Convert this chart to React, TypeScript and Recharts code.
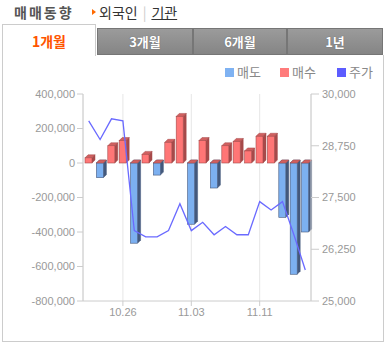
import React from 'react';
import { ComposedChart, Bar, Line, XAxis, YAxis, CartesianGrid } from 'recharts';

const dates = ['10.21', '10.22', '10.23', '10.26', '10.27', '10.28', '10.29', '10.30', '11.02', '11.03', '11.04', '11.05', '11.06', '11.09', '11.10', '11.11', '11.12', '11.13', '11.16', '11.17'];
const sellVolume = [0, -85000, 0, 0, -465000, 0, -70000, 0, 0, -355000, 0, -145000, 0, 0, 0, 0, 0, -315000, -645000, -400000];
const buyVolume = [30000, 0, 100000, 130000, 0, 50000, 0, 120000, 270000, 0, 130000, 0, 100000, 125000, 70000, 155000, 155000, 0, 0, 0];
const closePrice = [29350, 28900, 29400, 29350, 26700, 26550, 26550, 26700, 27350, 26700, 26900, 26600, 26800, 26600, 26600, 27400, 27200, 27400, 26600, 25750];
const leftTicks = [-800000, -600000, -400000, -200000, 0, 200000, 400000];
const rightTicks = [25000, 26250, 27500, 28750, 30000];
const xTicks = ['10.26', '11.03', '11.11'];

const data = dates.map((d, i) => ({ date: d, sell: sellVolume[i], buy: buyVolume[i], price: closePrice[i] }));

const fmt = (v: number) => v.toLocaleString('en-US');

function Bar3D(props: any) {
  const { x, y, width, height, front, side, topc, skipZero } = props;
  if (x == null || y == null) return null;
  const h = Math.abs(height || 0);
  const t = Math.min(y, y + (height || 0));
  if (h < 0.5 && skipZero) return null;
  const d = 3;
  const w = width;
  return (
    <g>
      <polygon points={`${x},${t} ${x + d},${t - d} ${x + w + d},${t - d} ${x + w},${t}`} fill={topc} stroke={side} strokeWidth={0.5} />
      {h >= 0.5 && (
        <>
          <polygon points={`${x + w},${t} ${x + w + d},${t - d} ${x + w + d},${t + h - d} ${x + w},${t + h}`} fill={side} stroke={side} strokeWidth={0.5} />
          <rect x={x} y={t} width={w} height={h} fill={front} stroke={side} strokeWidth={0.6} />
        </>
      )}
    </g>
  );
}

const tickStyle = { fill: '#999', fontSize: 11, fontFamily: 'Liberation Sans, Arial, sans-serif' };
const kr = '"Noto Sans CJK KR", "Noto Sans", sans-serif';

export default function App() {
  return (
    <div style={{ position: 'absolute', left: 0, top: 0, width: 387, height: 346, background: '#fff', fontFamily: kr }}>
      {/* header */}
      <div style={{ position: 'absolute', left: 14, top: 2, fontSize: 14, fontWeight: 700, color: '#555', letterSpacing: 2, lineHeight: '20px' }}>매매동향</div>
      <div style={{ position: 'absolute', left: 92, top: 9, width: 0, height: 0, borderTop: '3px solid transparent', borderBottom: '3px solid transparent', borderLeft: '4px solid #ff6a00' }} />
      <div style={{ position: 'absolute', left: 99, top: 2, fontSize: 14, color: '#333', lineHeight: '20px', whiteSpace: 'nowrap' }}>
        외국인<span style={{ color: '#ccc', margin: '0 5px' }}>|</span><span style={{ textDecoration: 'underline' }}>기관</span>
      </div>
      {/* tabs */}
      <div style={{ position: 'absolute', left: 2, top: 24, width: 94, height: 32, background: '#fff', borderTop: '1px solid #ccc', borderLeft: '1px solid #ccc', borderRight: '1px solid #ccc', boxSizing: 'border-box', textAlign: 'center', color: '#ff5500', fontWeight: 700, fontSize: 14, lineHeight: '32px' }}>1개월</div>
      {[['3개월', 97, 96], ['6개월', 193, 94], ['1년', 287, 96]].map(([t, l, w]) => (
        <div key={t as string} style={{ position: 'absolute', left: l as number, top: 28, width: w as number, height: 27, background: 'linear-gradient(#9b9b9b, #858585)', border: '1px solid #767676', boxSizing: 'border-box', textAlign: 'center', color: '#fff', fontWeight: 700, fontSize: 13, lineHeight: '25px', textShadow: '0 0 1px #555' }}>{t}</div>
      ))}
      {/* box */}
      <div style={{ position: 'absolute', left: 2, top: 55, width: 382, height: 287, borderLeft: '1px solid #ccc', borderRight: '1px solid #ccc', borderBottom: '1px solid #ccc', boxSizing: 'border-box' }} />
      {/* legend */}
      {[['매도', '#7fb2f2', 225], ['매수', '#ff7b7b', 280], ['주가', '#5c5cff', 337]].map(([t, c, l]) => (
        <div key={t as string} style={{ position: 'absolute', left: l as number, top: 63, height: 18, display: 'flex', alignItems: 'center', whiteSpace: 'nowrap' }}>
          <span style={{ display: 'inline-block', width: 9, height: 9, background: c as string, marginRight: 3 }} />
          <span style={{ fontSize: 13, color: '#888', lineHeight: '18px' }}>{t}</span>
        </div>
      ))}
      <div style={{ position: 'absolute', left: 0, top: 0 }}>
        <ComposedChart width={387} height={346} data={data} stackOffset="sign" margin={{ top: 94, right: 0, bottom: 15, left: 0 }}>
          <CartesianGrid stroke="#e6e6e6" horizontalValues={leftTicks} />
          <XAxis dataKey="date" ticks={xTicks} interval={0} tick={tickStyle} tickSize={5} tickLine={{ stroke: '#ccc' }} axisLine={{ stroke: '#ccc' }} height={30} />
          <YAxis yAxisId="left" domain={[-800000, 400000]} ticks={leftTicks} tickFormatter={fmt} tick={tickStyle} width={83} tickSize={6} tickLine={{ stroke: '#ccc' }} axisLine={{ stroke: '#ccc' }} interval={0} allowDataOverflow />
          <YAxis yAxisId="right" orientation="right" domain={[25000, 30000]} ticks={rightTicks} tickFormatter={fmt} tick={tickStyle} width={76} tickSize={8} tickMargin={3} tickLine={{ stroke: '#ccc' }} axisLine={{ stroke: '#ccc' }} interval={0} allowDataOverflow />
          <Bar yAxisId="left" dataKey="sell" stackId="v" barSize={7} isAnimationActive={false} shape={(p: any) => <Bar3D {...p} front="#7cb0f0" side="#44597c" topc="#5e82b4" skipZero />} />
          <Bar yAxisId="left" dataKey="buy" stackId="v" barSize={7} isAnimationActive={false} shape={(p: any) => <Bar3D {...p} front="#ff7676" side="#a64a4a" topc="#d06060" />} />
          <Line yAxisId="right" dataKey="price" type="linear" stroke="#6a6aff" strokeWidth={1.3} dot={false} isAnimationActive={false} />
        </ComposedChart>
      </div>
    </div>
  );
}
